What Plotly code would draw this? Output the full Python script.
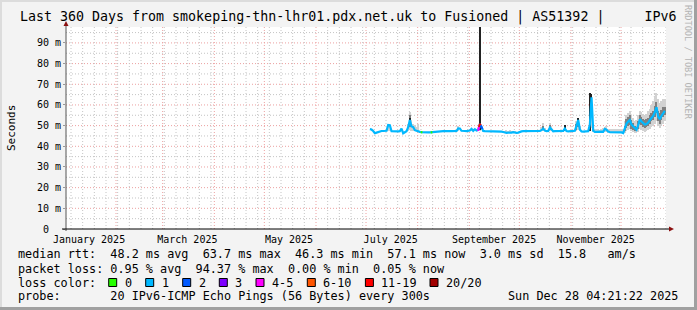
import pandas as pd
import plotly.graph_objects as go

# ---------------- data ----------------
graph_start = "2025-01-02 04:21:22"
graph_end = "2025-12-28 04:21:22"
first_day = "2025-07-03"

# daily median rtt (ms), one value per day starting at first_day
median_ms = [
    48.3, 48.1, 47.4, 46.3, 46.6, 47.0, 47.3, 47.4, 47.4, 47.4,
    47.5, 50.3, 50.2, 47.3, 47.2, 47.2, 47.2, 47.2, 47.3, 48.6,
    46.3, 47.0, 47.3, 49.2, 52.7, 49.6, 49.3, 47.8, 47.4, 47.3,
    47.0, 46.8, 46.7, 46.7, 46.8, 46.7, 46.7, 46.8, 46.7, 46.9,
    47.2, 47.3, 47.3, 47.3, 47.3, 47.3, 47.2, 47.2, 47.3, 47.3,
    47.3, 47.3, 47.4, 48.7, 48.6, 47.5, 47.3, 47.4, 47.3, 47.4,
    47.6, 48.4, 47.5, 48.3, 47.6, 47.9, 50.8, 49.4, 47.4, 47.3,
    47.3, 47.3, 47.4, 47.3, 47.3, 47.2, 47.3, 47.3, 47.2, 47.1,
    46.9, 46.6, 46.5, 46.6, 46.5, 46.6, 46.8, 46.6, 46.5, 46.6,
    47.1, 47.2, 47.3, 47.3, 47.2, 47.3, 47.3, 47.2, 47.3, 47.3,
    47.3, 47.3, 47.4, 47.8, 48.6, 47.6, 47.3, 47.4, 49.0, 48.2,
    47.2, 47.3, 47.3, 47.3, 47.2, 47.3, 47.4, 48.6, 47.4, 47.2,
    47.2, 47.2, 47.3, 47.5, 50.0, 52.7, 48.1, 47.2, 47.1, 47.1,
    47.1, 47.3, 50.5, 63.7, 47.6, 47.0, 47.0, 47.1, 47.1, 47.1,
    47.0, 48.4, 48.0, 47.1, 46.9, 46.9, 46.8, 46.8, 46.8, 46.8,
    46.8, 46.7, 46.4, 48.5, 51.0, 52.0, 52.7, 50.5, 49.5, 48.6,
    48.0, 50.2, 53.1, 52.0, 51.1, 50.5, 50.8, 51.5, 52.7, 53.6,
    54.7, 56.5, 58.9, 54.3, 53.1, 54.8, 56.3, 57.1,
]

# days with a loss colour other than the usual "1"
loss_dates = ["2025-08-03", "2025-08-09", "2025-09-06", "2025-09-07", "2025-09-08"]
loss_buckets = ["0", "0", "4-5", "11-19", "2"]

# light smoke (ping spread) per day
smoke_dates = [
    "2025-07-14", "2025-07-15", "2025-07-26", "2025-07-27", "2025-07-28", "2025-07-29",
    "2025-07-30", "2025-07-31", "2025-08-01", "2025-08-25", "2025-09-07",
    "2025-09-22", "2025-09-23", "2025-09-24", "2025-09-25", "2025-09-26", "2025-09-27",
    "2025-09-28", "2025-10-14", "2025-10-15", "2025-10-16", "2025-10-19", "2025-10-20",
    "2025-10-28", "2025-11-04", "2025-11-05", "2025-11-06", "2025-11-12", "2025-11-13",
    "2025-11-14", "2025-11-15", "2025-11-16", "2025-11-17", "2025-11-18", "2025-11-19",
    "2025-11-20", "2025-11-21", "2025-11-22", "2025-11-23", "2025-11-24", "2025-11-25",
    "2025-11-26", "2025-11-27", "2025-11-28", "2025-11-29", "2025-11-30", "2025-12-01",
    "2025-12-02", "2025-12-03", "2025-12-04", "2025-12-05", "2025-12-06", "2025-12-07",
    "2025-12-08", "2025-12-09", "2025-12-10", "2025-12-11", "2025-12-12", "2025-12-13",
    "2025-12-14", "2025-12-15", "2025-12-16", "2025-12-17", "2025-12-18", "2025-12-19",
    "2025-12-20", "2025-12-21", "2025-12-22", "2025-12-23", "2025-12-24", "2025-12-25",
    "2025-12-26", "2025-12-27",
]
smoke_lo = [
    47.3, 47.3, 47.3, 48.0, 47.5, 47.3, 47.2, 47.2, 47.2, 47.5, 47.5,
    46.4, 46.4, 46.4, 46.4, 46.5, 46.4, 46.4, 47.3, 47.4, 47.3, 47.4, 47.3,
    47.3, 47.4, 48.0, 47.3, 47.4, 49.0,
    46.9, 46.8, 46.8, 46.9, 46.8, 46.8, 46.9, 47.0, 47.0, 46.9,
    46.6, 46.6, 46.6, 46.6, 46.6, 46.6, 46.6, 46.5,
    46.2, 46.5, 47.5, 48.0, 48.5, 47.5, 46.8, 46.5, 46.5, 47.0, 48.5, 48.0,
    47.5, 47.0, 47.5, 48.0, 48.5, 49.5, 50.0, 51.0, 52.0, 50.0, 49.0, 50.0,
    51.0, 52.0,
]
smoke_hi = [
    50.6, 50.5, 51.0, 56.8, 52.5, 51.0, 50.5, 49.5, 50.8, 49.6, 97.7,
    47.6, 47.9, 47.5, 47.8, 47.6, 47.4, 47.5, 49.5, 51.1, 49.0, 51.4, 50.0,
    50.3, 52.0, 53.8, 50.0, 66.0, 65.5,
    48.5, 48.2, 48.6, 48.3, 48.0, 48.4, 48.8, 49.5, 49.6, 48.6,
    48.5, 48.3, 48.4, 48.6, 48.2, 48.4, 48.5, 48.6,
    48.5, 52.0, 55.0, 56.0, 57.0, 55.0, 53.5, 52.0, 52.5, 55.0, 57.0, 56.5,
    55.5, 55.0, 55.5, 57.0, 58.0, 60.0, 62.0, 64.0, 66.0, 63.0, 61.0, 62.0,
    63.0, 63.0,
]

# denser smoke core
core_dates = [
    "2025-07-27", "2025-10-15", "2025-10-19", "2025-11-04", "2025-11-05",
    "2025-12-03", "2025-12-04", "2025-12-05", "2025-12-06", "2025-12-07", "2025-12-08",
    "2025-12-09", "2025-12-10", "2025-12-11", "2025-12-12", "2025-12-13", "2025-12-14",
    "2025-12-15", "2025-12-16", "2025-12-17", "2025-12-18", "2025-12-19", "2025-12-20",
    "2025-12-21", "2025-12-22", "2025-12-23", "2025-12-24", "2025-12-25", "2025-12-26",
    "2025-12-27",
]
core_lo = [
    49.5, 47.8, 48.0, 48.0, 49.5,
    47.5, 49.0, 50.0, 50.5, 48.5, 48.0, 47.5, 47.2, 48.5, 51.0, 50.5, 49.5,
    49.0, 49.3, 50.0, 51.0, 52.0, 52.5, 54.0, 56.0, 52.0, 51.0, 52.5, 54.0, 55.0,
]
core_hi = [
    55.0, 50.0, 50.5, 51.0, 53.0,
    50.0, 53.0, 54.0, 55.0, 52.5, 51.5, 50.0, 49.5, 52.0, 55.0, 54.0, 53.0,
    52.5, 53.0, 53.5, 55.0, 56.0, 57.0, 59.5, 61.5, 57.0, 56.0, 57.5, 59.0, 59.0,
]

# single-day extremes (darkest smoke)
spike_dates = ["2025-07-27", "2025-09-07", "2025-10-28", "2025-11-05", "2025-11-12", "2025-11-13"]
spike_lo = [50.5, 48.0, 47.6, 50.5, 47.5, 58.0]
spike_hi = [53.5, 97.7, 50.3, 53.5, 66.0, 65.5]

y_max = 97.7
y_ticks = [0, 10, 20, 30, 40, 50, 60, 70, 80, 90]
y_tick_text = ["0\u00a0\u00a0", "10 m", "20 m", "30 m", "40 m", "50 m", "60 m", "70 m", "80 m", "90 m"]
x_tick_dates = ["2025-01-16", "2025-03-16", "2025-05-16", "2025-07-16", "2025-09-16", "2025-11-16"]
x_tick_text = ["January 2025", "March 2025", "May 2025", "July 2025", "September 2025", "November 2025"]

loss_labels = ["0", "1", "2", "3", "4-5", "6-10", "11-19", "20/20"]
loss_colors = ["#26ff00", "#00b8ff", "#0059ff", "#7e00ff", "#ff00ff", "#ff5500", "#ff0000", "#a10000"]

title = "Last 360 Days from smokeping-thn-lhr01.pdx.net.uk to Fusioned | AS51392 |     IPv6"
line_rtt = "median rtt:  48.2 ms avg  63.7 ms max  46.3 ms min  57.1 ms now  3.0 ms sd  15.8   am/s"
line_loss = "packet loss: 0.95 % avg  94.37 % max  0.00 % min  0.05 % now"
line_probe = "probe:       20 IPv6-ICMP Echo Pings (56 Bytes) every 300s"
stamp = "Sun Dec 28 04:21:22 2025"

# ---------------- layout constants ----------------
W, H = 697, 310
PX0, PW = 66, 600
PY0, PH = 27, 202
MONO = "DejaVu Sans Mono"
GRID_MINOR = dict(color="#c4c4c4", width=1, dash="1px,2px")
GRID_MAJOR = dict(color="#eca0a0", width=1, dash="1px,2px")


def px(x):
    return (x - PX0) / PW


def py(y):
    return (PY0 + PH - y) / PH


half_day = pd.Timedelta(hours=12)
day_ms = 86400000
med_x = pd.date_range(first_day, periods=len(median_ms), freq="D") + half_day

fig = go.Figure()


def bars(dates, lo, hi, color):
    xs = pd.to_datetime(dates) + half_day
    fig.add_trace(go.Bar(
        x=xs, y=[h - l for l, h in zip(lo, hi)], base=lo, width=day_ms,
        marker=dict(color=color, line=dict(width=0)), hoverinfo="skip", showlegend=False))


bars(smoke_dates, smoke_lo, smoke_hi, "#d2d2d2")
bars(core_dates, core_lo, core_hi, "#808080")
bars(spike_dates, spike_lo, spike_hi, "#222222")

fig.add_trace(go.Scatter(x=med_x, y=median_ms, mode="lines",
                         line=dict(color=loss_colors[1], width=2.2),
                         hoverinfo="skip", showlegend=False))

# overlay coloured segments for days with other loss buckets
med_index = {d.strftime("%Y-%m-%d"): i for i, d in enumerate(med_x)}
for d, b in zip(loss_dates, loss_buckets):
    i = med_index[d]
    col = loss_colors[loss_labels.index(b)]
    fig.add_trace(go.Scatter(x=[med_x[i] - half_day, med_x[i], med_x[i] + half_day],
                             y=[(median_ms[i - 1] + median_ms[i]) / 2, median_ms[i],
                                (median_ms[i] + median_ms[i + 1]) / 2],
                             mode="lines", line=dict(color=col, width=2.2),
                             hoverinfo="skip", showlegend=False))

shapes = []
# horizontal grid
for v in range(5, 100, 5):
    shapes.append(dict(type="line", xref="paper", x0=0, x1=1, yref="y", y0=v, y1=v, layer="below",
                       line=GRID_MAJOR if v % 10 == 0 else GRID_MINOR))
# vertical grid
months = pd.date_range(graph_start, graph_end, freq="MS")
weeks = pd.date_range(graph_start, graph_end, freq="W-SUN")
for d in weeks:
    if d in months:
        continue
    shapes.append(dict(type="line", xref="x", x0=d, x1=d, yref="paper", y0=0, y1=1, layer="below",
                       line=GRID_MINOR))
for d in months:
    shapes.append(dict(type="line", xref="x", x0=d, x1=d, yref="paper", y0=0, y1=1, layer="below",
                       line=GRID_MAJOR))

# axes lines and arrows
shapes.append(dict(type="line", xref="paper", yref="paper", x0=px(66), x1=px(66), y0=py(231), y1=py(24),
                   line=dict(color="#555555", width=1)))
shapes.append(dict(type="line", xref="paper", yref="paper", x0=px(62), x1=px(670), y0=py(229), y1=py(229),
                   line=dict(color="#000000", width=1)))
shapes.append(dict(type="path", xref="paper", yref="paper",
                   path=f"M {px(63.5)} {py(26)} L {px(68.5)} {py(26)} L {px(66)} {py(21)} Z",
                   fillcolor="#8b1010", line=dict(width=0)))
shapes.append(dict(type="path", xref="paper", yref="paper",
                   path=f"M {px(669)} {py(226.5)} L {px(669)} {py(231.5)} L {px(674)} {py(229)} Z",
                   fillcolor="#8b1010", line=dict(width=0)))

# outer frame
shapes += [
    dict(type="rect", xref="paper", yref="paper", x0=px(0), x1=px(2), y0=py(0), y1=py(310),
         fillcolor="#dcdcdc", line=dict(width=0)),
    dict(type="rect", xref="paper", yref="paper", x0=px(0), x1=px(697), y0=py(0), y1=py(2),
         fillcolor="#dcdcdc", line=dict(width=0)),
    dict(type="rect", xref="paper", yref="paper", x0=px(694), x1=px(697), y0=py(0), y1=py(310),
         fillcolor="#a0a0a0", line=dict(width=0)),
    dict(type="rect", xref="paper", yref="paper", x0=px(0), x1=px(697), y0=py(307), y1=py(310),
         fillcolor="#a0a0a0", line=dict(width=0)),
]

annotations = []


def text(s, x, y, size=11.8, anchor="left", color="#000000", angle=0):
    annotations.append(dict(text=s.replace(" ", "\u00a0"), xref="paper", yref="paper", x=px(x), y=py(y),
                            xanchor=anchor, yanchor="middle", showarrow=False, textangle=angle,
                            font=dict(family=MONO, size=size, color=color)))


text(title, 348, 17, size=13.3, anchor="center")
text("Seconds", 11, 128, size=11, anchor="center", angle=-90)
text("RRDTOOL / TOBI OETIKER", 688, 62, size=8.6, anchor="center", color="#b4b4b4", angle=90)
text(line_rtt, 16, 254)
text(line_loss, 16, 268.5)
text("loss color:", 16, 282.5)
text(line_probe, 16, 296)
text(stamp, 680, 296, anchor="right")

box_x = [108.7, 145.7, 182.7, 219.3, 256, 307.3, 365.4, 430]
for bx, lab, col in zip(box_x, loss_labels, loss_colors):
    shapes.append(dict(type="rect", xref="paper", yref="paper", x0=px(bx), x1=px(bx + 8),
                       y0=py(278.5), y1=py(286.5), fillcolor=col, line=dict(color="#000000", width=1)))
    text(lab, bx + 14, 282.5)

fig.update_layout(
    width=W, height=H,
    margin=dict(l=PX0, r=W - PX0 - PW, t=PY0, b=H - PY0 - PH),
    paper_bgcolor="#f3f3f3", plot_bgcolor="#ffffff",
    barmode="overlay", bargap=0,
    showlegend=False,
    shapes=shapes, annotations=annotations,
    xaxis=dict(type="date", range=[graph_start, graph_end], showgrid=False, zeroline=False,
               showline=False, tickvals=x_tick_dates, ticktext=x_tick_text, ticks="",
               ticklabelstandoff=3,
               tickfont=dict(family=MONO, size=10, color="#000000"), fixedrange=True),
    yaxis=dict(range=[0, y_max], showgrid=False, zeroline=False, showline=False,
               tickvals=y_ticks, ticktext=y_tick_text, ticks="outside", ticklen=2, tickcolor="#999999",
               tickfont=dict(family=MONO, size=10, color="#000000"), fixedrange=True),
)

fig.write_html("out.html")
